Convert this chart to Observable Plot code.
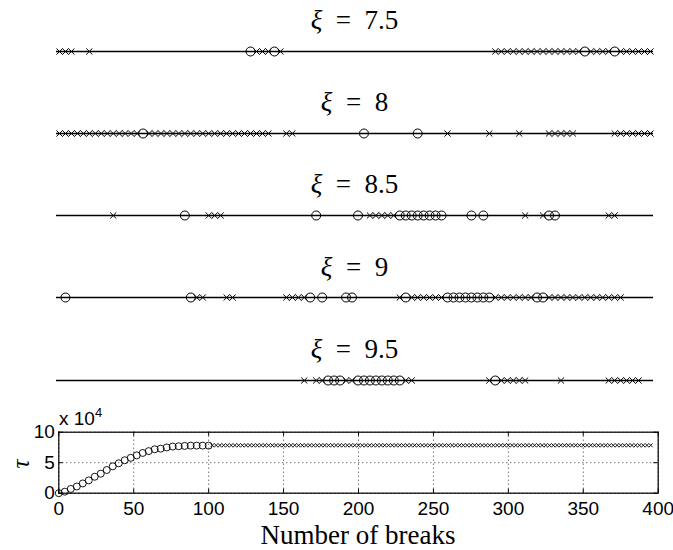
<!DOCTYPE html>
<html><head><meta charset="utf-8">
<script src="https://cdn.jsdelivr.net/npm/d3@7"></script>
<script src="https://cdn.jsdelivr.net/npm/@observablehq/plot@0.6"></script>
<style>
body{margin:0;background:#fff;}
#chart{position:relative;width:673px;height:550px;overflow:hidden;background:#fff;}
#chart svg{position:absolute;left:0;}
.t{position:absolute;font-family:"Liberation Serif",serif;color:#000;white-space:nowrap;line-height:1;}
.s{position:absolute;font-family:"Liberation Sans",Arial,sans-serif;color:#000;white-space:nowrap;line-height:1;}
</style></head><body><div id="chart"></div>
<script>
// ---- data ----
const xiLabels = ["7.5", "8", "8.5", "9", "9.5"];
const stripCrosses = [
  [1,2,3,6,34,35,36,38,74,75,76,77,78,79,80,81,82,83,84,85,86,87,88,90,91,92,93,95,96,97,98,99,100],
  [1,2,3,4,5,6,7,8,9,10,11,12,13,14,16,17,18,19,20,21,22,23,24,25,26,27,28,29,30,31,32,33,34,35,36,39,40,66,73,78,83,84,85,86,87,94,95,96,97,98,99,100],
  [10,26,27,28,53,54,55,56,57,79,82,93,94],
  [24,25,29,30,39,40,41,42,58,60,61,62,63,64,65,74,75,76,77,78,79,80,83,84,85,86,87,88,89,90,91,92,93,94,95],
  [42,44,45,49,50,59,60,73,75,76,77,78,79,85,93,94,95,96,97,98]
];
const stripCircles = [
  [33,37,89,94],
  [15,52,61],
  [22,44,51,58,59,60,61,62,63,64,65,70,72,83,84],
  [2,23,43,45,49,50,59,66,67,68,69,70,71,72,73,81,82],
  [46,47,48,51,52,53,54,55,56,57,58,74]
];
const stripDomain = [0.5, 100.5];

const tauCircleBreaks = [0,4,8,12,16,20,24,28,32,36,40,44,48,52,56,60,64,68,72,76,80,84,88,92,96,100];
const tauCircleValues = [0,0.25,0.7,1.1,1.6,2.1,2.7,3.2,3.8,4.4,4.9,5.4,5.8,6.2,6.6,6.9,7.2,7.3,7.5,7.65,7.7,7.75,7.8,7.8,7.8,7.8];
const tauCrossBreaks = [102.5,105,107.5,110,112.5,115,117.5,120,122.5,125,127.5,130,132.5,135,137.5,140,142.5,145,147.5,150,152.5,155,157.5,160,162.5,165,167.5,170,172.5,175,177.5,180,182.5,185,187.5,190,192.5,195,197.5,200,202.5,205,207.5,210,212.5,215,217.5,220,222.5,225,227.5,230,232.5,235,237.5,240,242.5,245,247.5,250,252.5,255,257.5,260,262.5,265,267.5,270,272.5,275,277.5,280,282.5,285,287.5,290,292.5,295,297.5,300,302.5,305,307.5,310,312.5,315,317.5,320,322.5,325,327.5,330,332.5,335,337.5,340,342.5,345,347.5,350,352.5,355,357.5,360,362.5,365,367.5,370,372.5,375,377.5,380,382.5,385,387.5,390,392.5,395];
const tauPlateau = 7.85;
const xTicks = [0,50,100,150,200,250,300,350,400];
const yTicks = [0,5,10];

// ---- layout ----
const chart = document.getElementById("chart");
const lineY = [51, 133, 215, 297.3, 380];

xiLabels.forEach((lab, i) => {
  const svg = Plot.plot({
    width: 673, height: 40,
    marginLeft: 56, marginRight: 20, marginTop: 10, marginBottom: 10,
    x: {domain: stripDomain, axis: null},
    y: {domain: [-1, 1], axis: null},
    marks: [
      Plot.ruleY([0], {stroke: "black", strokeWidth: 1.3}),
      Plot.dotX(stripCrosses[i], {x: d => d, symbol: "times", r: 2.9, stroke: "black", strokeWidth: 1, fill: "none"}),
      Plot.dotX(stripCircles[i], {x: d => d, r: 4.5, stroke: "black", strokeWidth: 1, fill: "none"})
    ]
  });
  svg.style.top = (lineY[i] - 20) + "px";
  chart.appendChild(svg);
  const t = document.createElement("div");
  t.className = "t";
  t.style.cssText = `left:56px;width:597px;text-align:center;font-size:27px;top:${lineY[i] - 43.6}px;`;
  t.innerHTML = `<i>ξ</i>&ensp;=&ensp;${lab}`;
  chart.appendChild(t);
});

const bottom = Plot.plot({
  width: 673, height: 150,
  marginLeft: 58.3, marginRight: 15.3, marginTop: 31.7, marginBottom: 57.3,
  style: {fontFamily: "Liberation Sans, Arial, sans-serif", fontSize: "19px", color: "black", background: "transparent"},
  x: {domain: [0, 400]},
  y: {domain: [0, 10]},
  marks: [
    Plot.gridX(xTicks, {stroke: "black", strokeOpacity: 1, strokeWidth: 0.8, strokeDasharray: "1,3"}),
    Plot.gridY(yTicks, {stroke: "black", strokeOpacity: 1, strokeWidth: 0.8, strokeDasharray: "1,3"}),
    Plot.tickX(xTicks, {x: d => d, insetTop: 57, stroke: "black"}),
    Plot.tickX(xTicks, {x: d => d, insetBottom: 57, stroke: "black"}),
    Plot.tickY(yTicks, {y: d => d, insetRight: 595, stroke: "black"}),
    Plot.tickY(yTicks, {y: d => d, insetLeft: 595, stroke: "black"}),
    Plot.axisX(xTicks, {tickSize: 0, tickPadding: 8, fontSize: 19, fontFamily: "Liberation Sans, Arial, sans-serif", label: null}),
    Plot.axisY(yTicks, {tickSize: 0, tickPadding: 4, fontSize: 19, fontFamily: "Liberation Sans, Arial, sans-serif", label: null}),
    Plot.dot(tauCrossBreaks, {x: d => d, y: () => tauPlateau, symbol: "times", r: 1.9, stroke: "black", strokeWidth: 0.9, fill: "none"}),
    Plot.dot(tauCircleBreaks, {x: d => d, y: (d, i) => tauCircleValues[i], r: 3.5, stroke: "black", strokeWidth: 0.9, fill: "none"}),
    Plot.frame({stroke: "black", strokeWidth: 1.2})
  ]
});
bottom.style.top = "400px";
chart.appendChild(bottom);

const tau = document.createElement("div");
tau.className = "t";
tau.style.cssText = "left:20px;top:464px;font-size:25px;font-style:italic;transform:translate(-50%,-50%) rotate(-90deg);";
tau.textContent = "τ";
chart.appendChild(tau);

const mult = document.createElement("div");
mult.className = "s";
mult.style.cssText = "left:59px;top:409px;font-size:19px;";
mult.innerHTML = 'x 10<span style="position:relative;top:-8px;font-size:13px;">4</span>';
chart.appendChild(mult);

const xl = document.createElement("div");
xl.className = "t";
xl.style.cssText = "left:58px;width:600px;text-align:center;top:522px;font-size:27px;";
xl.textContent = "Number of breaks";
chart.appendChild(xl);
</script></body></html>
